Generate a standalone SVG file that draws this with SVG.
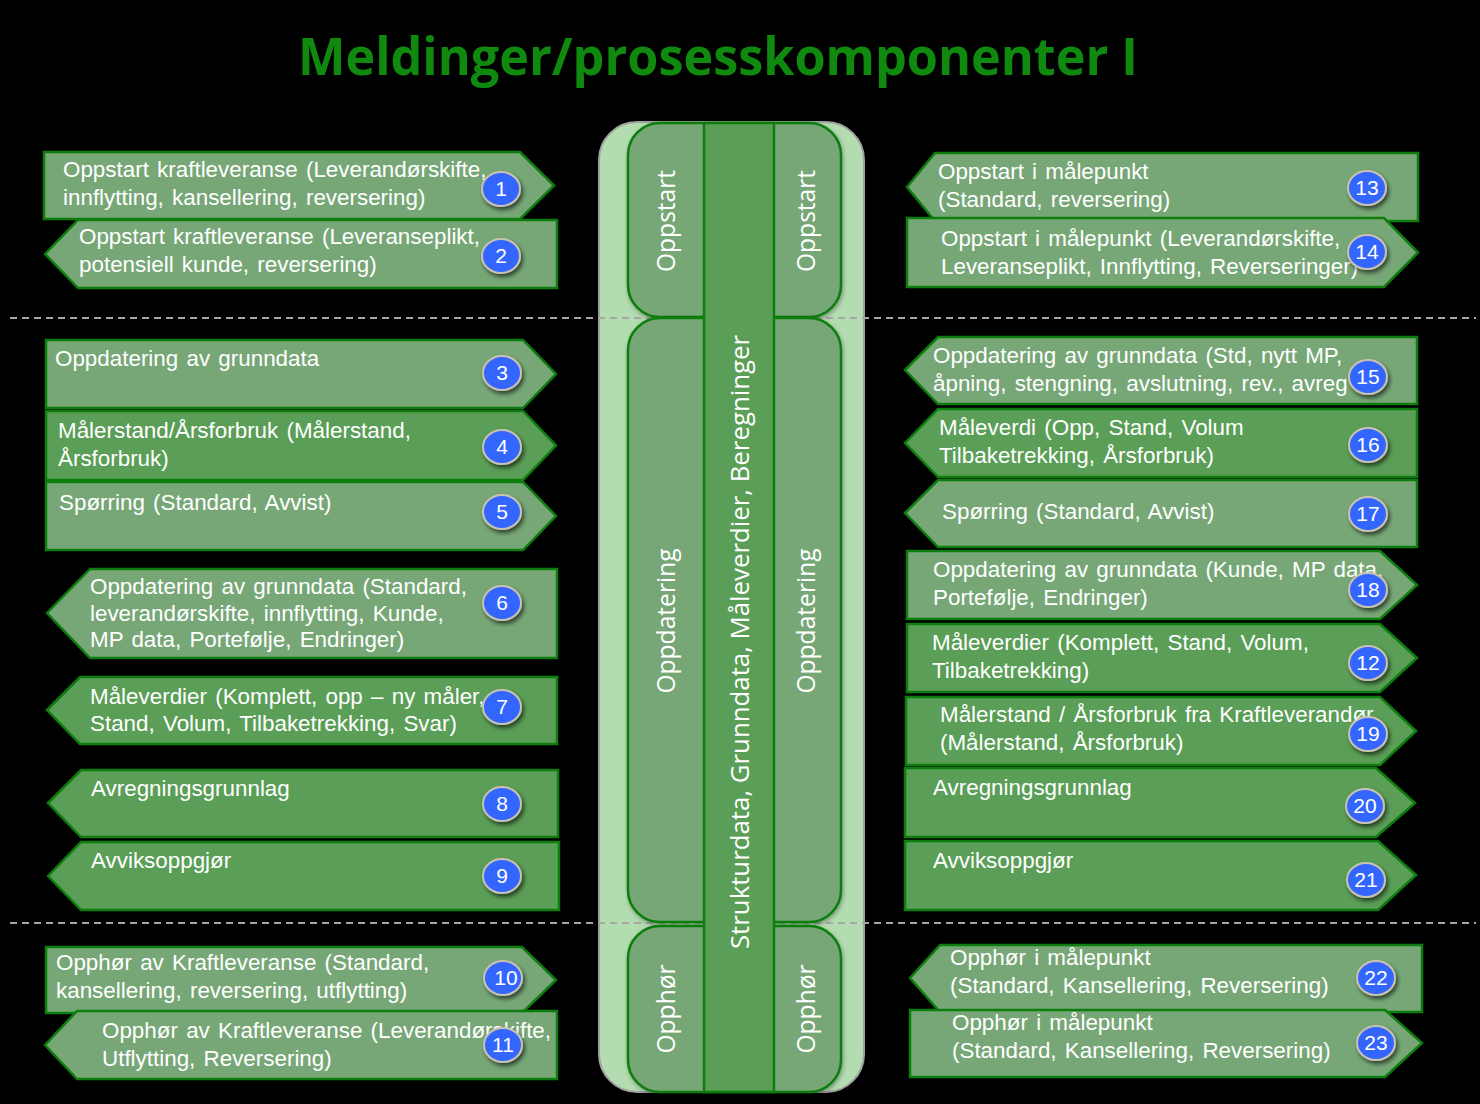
<svg xmlns="http://www.w3.org/2000/svg" width="1480" height="1104" viewBox="0 0 1480 1104">
<defs>
<filter id="sh" x="-30%" y="-30%" width="170%" height="170%">
<feDropShadow dx="2" dy="3" stdDeviation="2" flood-color="#000" flood-opacity="0.6"/>
</filter>
<filter id="sh2" x="-10%" y="-10%" width="120%" height="120%">
<feDropShadow dx="1" dy="2" stdDeviation="2" flood-color="#000" flood-opacity="0.35"/>
</filter>
</defs>
<style>
.lt{fill:#77a777;stroke:#0d7d0d;stroke-width:2.5}
.dk{fill:#5b9e57;stroke:#0d7d0d;stroke-width:2.5}
.t{font-family:"Liberation Sans",Arial,sans-serif;font-size:22.4px;word-spacing:2px;fill:#ffffff}
.c{fill:#3366ff;stroke:#c9c2b2;stroke-width:2;filter:url(#sh)}
.n{font-family:"Liberation Sans",Arial,sans-serif;font-size:21px;fill:#ffffff;text-anchor:middle}
.v{font-family:"Open Sans","DejaVu Sans",sans-serif;font-size:24.6px;fill:#ffffff;text-anchor:middle}
.dash{stroke:#a6a6a6;stroke-width:2;stroke-dasharray:7,5;fill:none}
</style>
<rect width="1480" height="1104" fill="#000"/>
<text x="718" y="75" text-anchor="middle" font-family="'Open Sans','DejaVu Sans',sans-serif" font-weight="bold" font-size="52" fill="#0f8a0f" textLength="840" lengthAdjust="spacingAndGlyphs">Meldinger/prosesskomponenter I</text>

<g id="column">
<rect x="599" y="122" width="265" height="970" rx="38" fill="#b3dcb0" stroke="#a0a0a0" stroke-width="2"/>
</g>
<g id="dividers">
<line class="dash" x1="10" y1="318" x2="1476" y2="318"/>
<line class="dash" x1="10" y1="923" x2="1476" y2="923"/>
</g>
<g id="phase-oppstart">
<rect x="628" y="123" width="213" height="194" rx="32" class="lt" style="filter:url(#sh2)"/>
</g>
<g id="phase-oppdatering">
<rect x="628" y="318" width="213" height="604" rx="32" class="lt" style="filter:url(#sh2)"/>
</g>
<g id="phase-opphor">
<rect x="628" y="926" width="213" height="166" rx="32" class="lt" style="filter:url(#sh2)"/>
</g>
<g id="center-bar">
<rect x="704" y="123" width="70" height="969" class="dk"/>
<text class="v" style="font-size:25.8px" transform="translate(749,642) rotate(-90)">Strukturdata, Grunndata, Måleverdier, Beregninger</text>
</g>
<g id="phase-labels">
<text class="v" transform="translate(675,221) rotate(-90)">Oppstart</text>
<text class="v" transform="translate(815,221) rotate(-90)">Oppstart</text>
<text class="v" transform="translate(675,621) rotate(-90)">Oppdatering</text>
<text class="v" transform="translate(815,621) rotate(-90)">Oppdatering</text>
<text class="v" transform="translate(675,1009) rotate(-90)">Opphør</text>
<text class="v" transform="translate(815,1009) rotate(-90)">Opphør</text>
</g>

<g id="connectors"></g>

<!-- Left side -->
<g id="m1">
<path class="lt" d="M44,152 H520 L554,185.5 L520,219 H44 Z"/>
<text class="t" x="63" y="177">Oppstart kraftleveranse (Leverandørskifte,</text>
<text class="t" x="63" y="205">innflytting, kansellering, reversering)</text>
<ellipse class="c" cx="501" cy="189" rx="19" ry="17"/><text class="n" x="501" y="196">1</text>
</g>
<g id="m2">
<path class="lt" d="M45,254 L78,220 H557 V288 H78 Z"/>
<text class="t" x="79" y="244">Oppstart kraftleveranse (Leveranseplikt,</text>
<text class="t" x="79" y="272">potensiell kunde, reversering)</text>
<ellipse class="c" cx="501" cy="256" rx="19" ry="17"/><text class="n" x="501" y="263">2</text>
</g>
<g id="m3">
<path class="lt" d="M46,340 H523 L556,374 L523,408 H46 Z"/>
<text class="t" x="55" y="366">Oppdatering av grunndata</text>
<ellipse class="c" cx="502" cy="373" rx="19" ry="17"/><text class="n" x="502" y="380">3</text>
</g>
<g id="m4">
<path class="dk" d="M46,411 H523 L556,445.5 L523,480 H46 Z"/>
<text class="t" x="58" y="438">Målerstand/Årsforbruk (Målerstand,</text>
<text class="t" x="58" y="466">Årsforbruk)</text>
<ellipse class="c" cx="502" cy="447" rx="19" ry="17"/><text class="n" x="502" y="454">4</text>
</g>
<g id="m5">
<path class="lt" d="M46,482 H523 L556,516 L523,550 H46 Z"/>
<text class="t" x="59" y="510">Spørring (Standard, Avvist)</text>
<ellipse class="c" cx="502" cy="512" rx="19" ry="17"/><text class="n" x="502" y="519">5</text>
</g>
<g id="m6">
<path class="lt" d="M47,613 L90,569 H557 V658 H90 Z"/>
<text class="t" x="90" y="594">Oppdatering av grunndata (Standard,</text>
<text class="t" x="90" y="621">leverandørskifte, innflytting, Kunde,</text>
<text class="t" x="90" y="647">MP data, Portefølje, Endringer)</text>
<ellipse class="c" cx="502" cy="603" rx="19" ry="17"/><text class="n" x="502" y="610">6</text>
</g>
<g id="m7">
<path class="dk" d="M47,710 L80,677 H557 V744 H80 Z"/>
<text class="t" x="90" y="704">Måleverdier (Komplett, opp – ny måler,</text>
<text class="t" x="90" y="731">Stand, Volum, Tilbaketrekking, Svar)</text>
<ellipse class="c" cx="502" cy="707" rx="19" ry="17"/><text class="n" x="502" y="714">7</text>
</g>
<g id="m8">
<path class="dk" d="M48,803 L81,770 H558 V837 H81 Z"/>
<text class="t" x="91" y="796">Avregningsgrunnlag</text>
<ellipse class="c" cx="502" cy="804" rx="19" ry="17"/><text class="n" x="502" y="811">8</text>
</g>
<g id="m9">
<path class="dk" d="M48,876 L81,842 H559 V910 H81 Z"/>
<text class="t" x="91" y="868">Avviksoppgjør</text>
<ellipse class="c" cx="502" cy="876" rx="19" ry="17"/><text class="n" x="502" y="883">9</text>
</g>
<g id="m10">
<path class="lt" d="M46,947 H522 L556,980 L522,1013 H46 Z"/>
<text class="t" x="56" y="970">Opphør av Kraftleveranse (Standard,</text>
<text class="t" x="56" y="998">kansellering, reversering, utflytting)</text>
<ellipse class="c" cx="503" cy="978" rx="19" ry="17"/><text class="n" x="506" y="985">10</text>
</g>
<g id="m11">
<path class="lt" d="M45,1045 L77,1011 H557 V1079 H77 Z"/>
<text class="t" x="102" y="1038">Opphør av Kraftleveranse (Leverandørskifte,</text>
<text class="t" x="102" y="1066">Utflytting, Reversering)</text>
<ellipse class="c" cx="503" cy="1045" rx="19" ry="17"/><text class="n" x="503" y="1052">11</text>
</g>

<!-- Right side -->
<g id="m13">
<path class="lt" d="M907,187 L935,153 H1418 V221 H935 Z"/>
<text class="t" x="938" y="179">Oppstart i målepunkt</text>
<text class="t" x="938" y="207">(Standard, reversering)</text>
<ellipse class="c" cx="1367" cy="188" rx="19" ry="17"/><text class="n" x="1367" y="195">13</text>
</g>
<g id="m14">
<path class="lt" d="M907,218 H1384 L1418,252.5 L1384,287 H907 Z"/>
<text class="t" x="941" y="246">Oppstart i målepunkt (Leverandørskifte,</text>
<text class="t" x="941" y="274">Leveranseplikt, Innflytting, Reverseringer)</text>
<ellipse class="c" cx="1367" cy="252" rx="19" ry="17"/><text class="n" x="1367" y="259">14</text>
</g>
<g id="m15">
<path class="lt" d="M905,370 L938,337 H1417 V404 H938 Z"/>
<text class="t" x="933" y="363">Oppdatering av grunndata (Std, nytt MP,</text>
<text class="t" x="933" y="391">åpning, stengning, avslutning, rev., avreg</text>
<ellipse class="c" cx="1368" cy="377" rx="19" ry="17"/><text class="n" x="1368" y="384">15</text>
</g>
<g id="m16">
<path class="dk" d="M905,443 L938,409 H1417 V477 H938 Z"/>
<text class="t" x="939" y="435">Måleverdi (Opp, Stand, Volum</text>
<text class="t" x="939" y="463">Tilbaketrekking, Årsforbruk)</text>
<ellipse class="c" cx="1368" cy="445" rx="19" ry="17"/><text class="n" x="1368" y="452">16</text>
</g>
<g id="m17">
<path class="lt" d="M905,513 L938,480 H1417 V547 H938 Z"/>
<text class="t" x="942" y="519">Spørring (Standard, Avvist)</text>
<ellipse class="c" cx="1368" cy="514" rx="19" ry="17"/><text class="n" x="1368" y="521">17</text>
</g>
<g id="m18">
<path class="lt" d="M907,551 H1380 L1417,585 L1380,619 H907 Z"/>
<text class="t" x="933" y="577">Oppdatering av grunndata (Kunde, MP data,</text>
<text class="t" x="933" y="605">Portefølje, Endringer)</text>
<ellipse class="c" cx="1368" cy="590" rx="19" ry="17"/><text class="n" x="1368" y="597">18</text>
</g>
<g id="m12">
<path class="dk" d="M907,624 H1380 L1417,658 L1380,692 H907 Z"/>
<text class="t" x="932" y="650">Måleverdier (Komplett, Stand, Volum,</text>
<text class="t" x="932" y="678">Tilbaketrekking)</text>
<ellipse class="c" cx="1368" cy="663" rx="19" ry="17"/><text class="n" x="1368" y="670">12</text>
</g>
<g id="m19">
<path class="dk" d="M906,697 H1380 L1416,731 L1380,765 H906 Z"/>
<text class="t" x="940" y="722">Målerstand / Årsforbruk fra Kraftleverandør</text>
<text class="t" x="940" y="750">(Målerstand, Årsforbruk)</text>
<ellipse class="c" cx="1368" cy="734" rx="19" ry="17"/><text class="n" x="1368" y="741">19</text>
</g>
<g id="m20">
<path class="dk" d="M905,768 H1376 L1415,803 L1376,837 H905 Z"/>
<text class="t" x="933" y="795">Avregningsgrunnlag</text>
<ellipse class="c" cx="1365" cy="806" rx="19" ry="17"/><text class="n" x="1365" y="813">20</text>
</g>
<g id="m21">
<path class="dk" d="M905,841 H1378 L1416,875 L1378,910 H905 Z"/>
<text class="t" x="933" y="868">Avviksoppgjør</text>
<ellipse class="c" cx="1366" cy="880" rx="19" ry="17"/><text class="n" x="1366" y="887">21</text>
</g>
<g id="m22">
<path class="lt" d="M910,978 L940,945 H1422 V1012 H940 Z"/>
<text class="t" x="950" y="965">Opphør i målepunkt</text>
<text class="t" x="950" y="993">(Standard, Kansellering, Reversering)</text>
<ellipse class="c" cx="1376" cy="978" rx="19" ry="17"/><text class="n" x="1376" y="985">22</text>
</g>
<g id="m23">
<path class="lt" d="M910,1010 H1385 L1422,1043 L1385,1077 H910 Z"/>
<text class="t" x="952" y="1030">Opphør i målepunkt</text>
<text class="t" x="952" y="1058">(Standard, Kansellering, Reversering)</text>
<ellipse class="c" cx="1376" cy="1043" rx="19" ry="17"/><text class="n" x="1376" y="1050">23</text>
</g>
</svg>
